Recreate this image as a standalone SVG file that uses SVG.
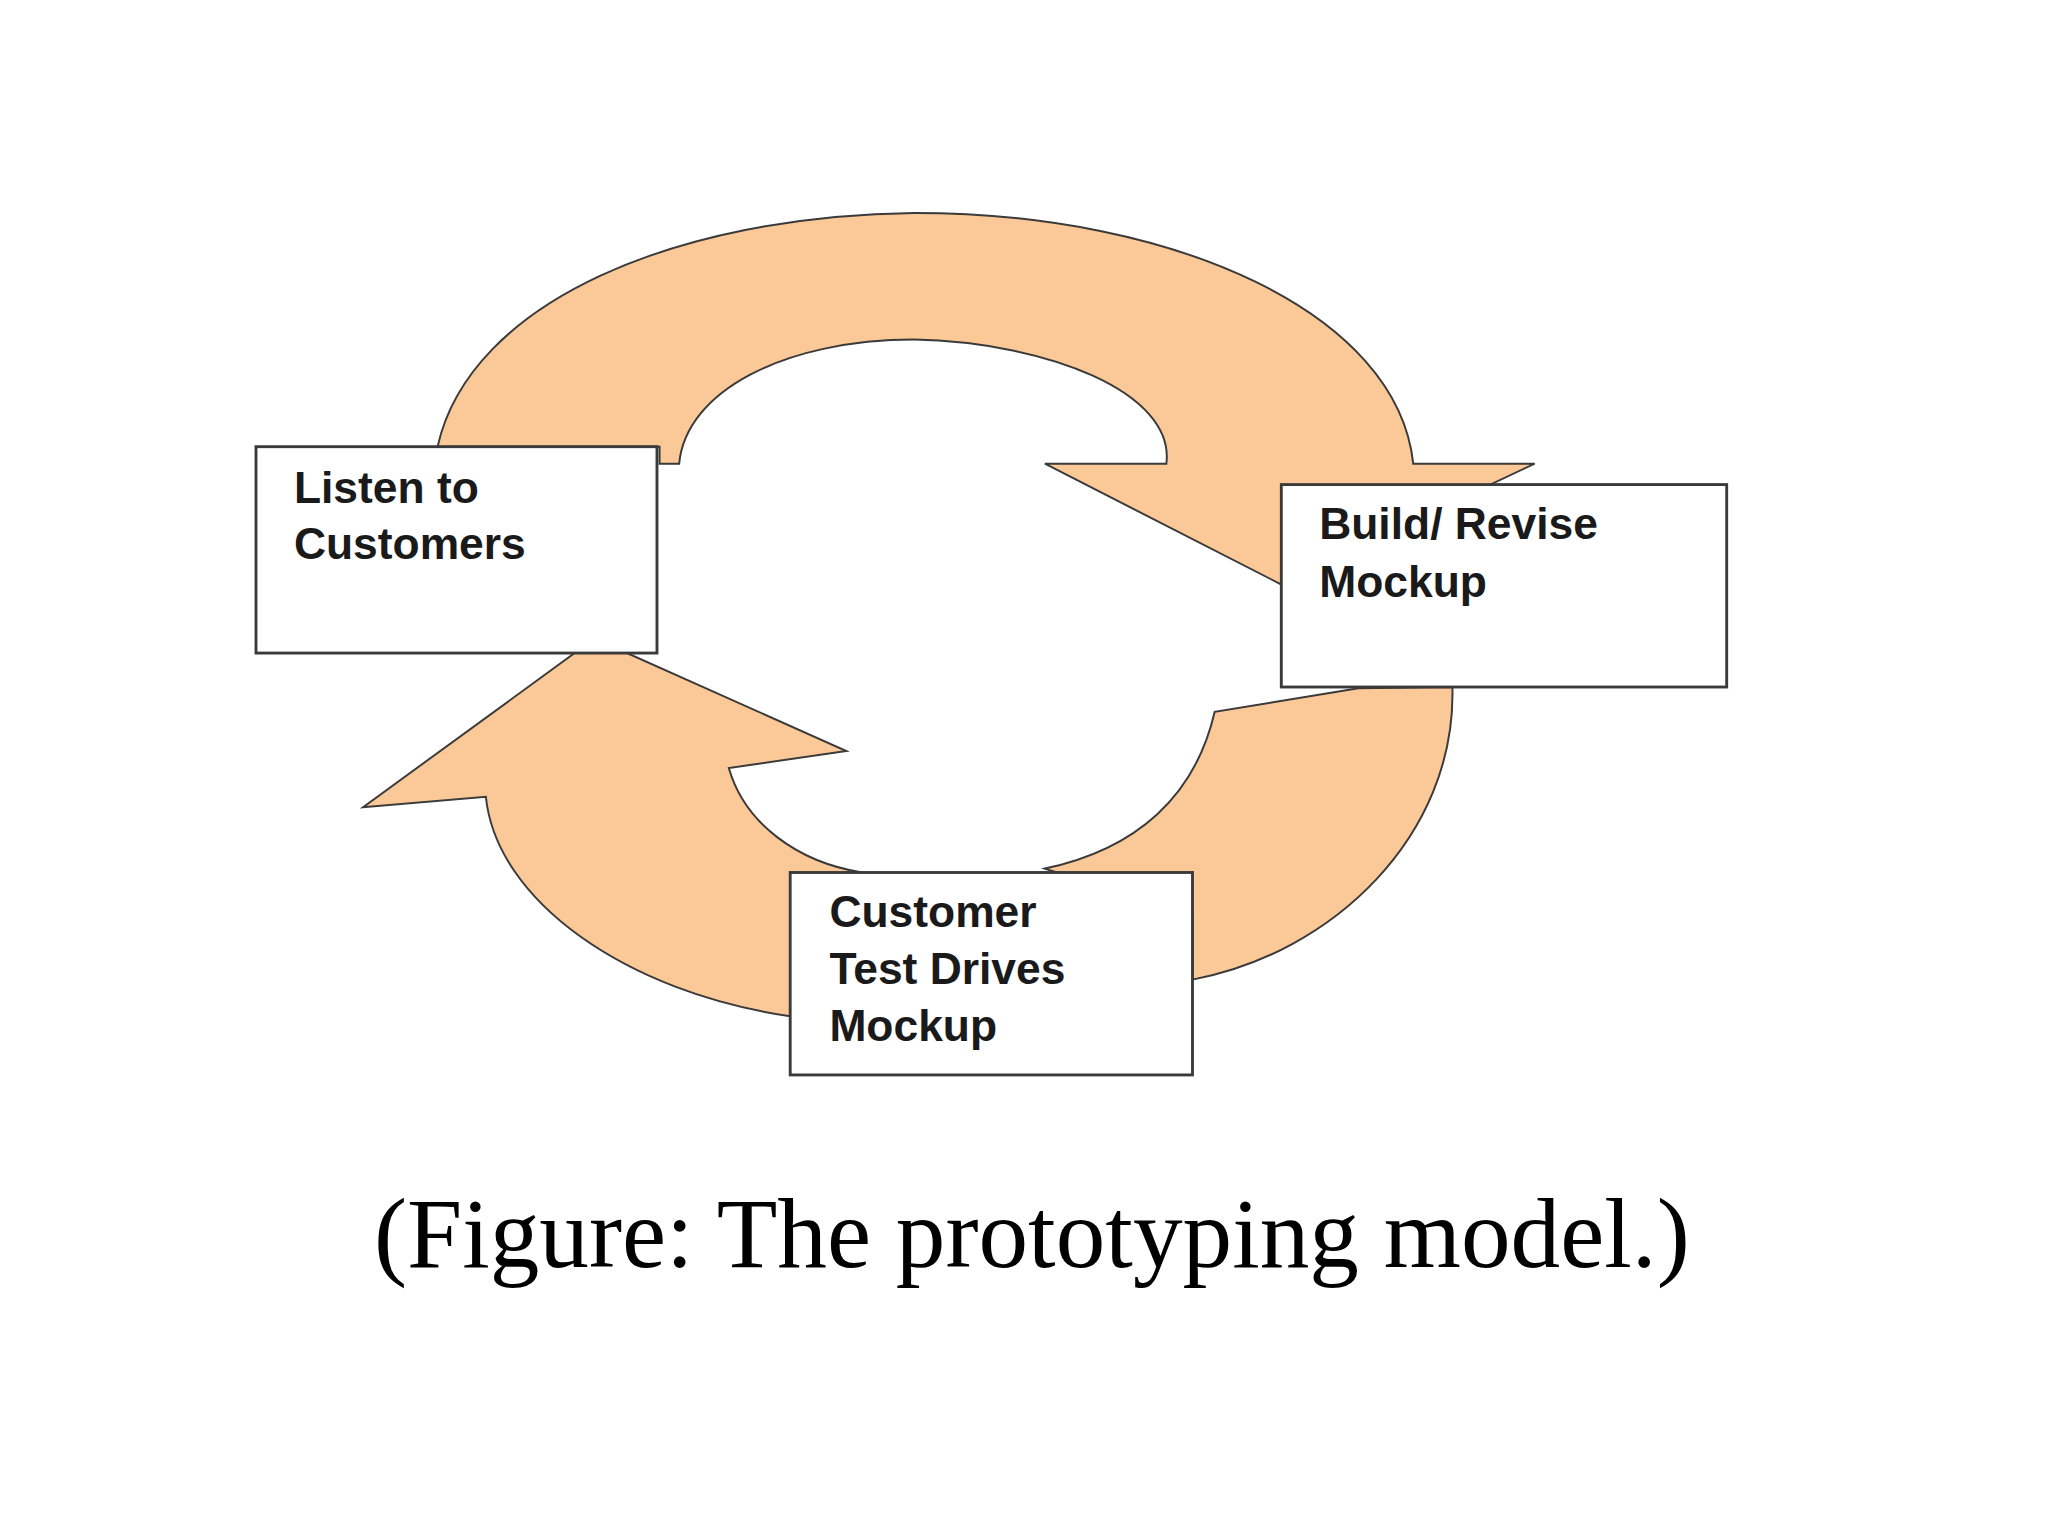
<svg xmlns="http://www.w3.org/2000/svg" width="2048" height="1536" viewBox="0 0 2048 1536">
<style>
.arrow{fill:#FAC997;stroke:#3a3a3a;stroke-width:1.5;stroke-linejoin:miter}
.box{fill:#fff;stroke:#3a3a3a;stroke-width:2.2}
.lbl{font-family:"Liberation Sans",Arial,sans-serif;font-weight:bold;font-size:34px;fill:#1a1a1a}
.cap{font-family:"Liberation Serif","Times New Roman",serif;font-size:76px;fill:#000}
</style>
<rect width="2048" height="1536" fill="#fff"/>
<g transform="scale(1.30612)">
<g id="connectors">
<path class="arrow" d="M335,342 C360,230 520,165 700,163 C900,163 1070,240 1082,355 L1175,355 L980,447 L800,355 L893,355 C900,300 800,262 700,260 C600,260 525,300 520,355 L505,355 L505,342 Z"/>
<path class="arrow" d="M1040,527 L1112,526 C1115,640 1020,730 913,750 L913,700 L800,665 C870,650 915,610 930,545 Z"/>
<path class="arrow" d="M605,778 C480,760 380,690 372,610 L278,618 L440,500 L480,500 L648,575 L558,588 C570,630 610,660 660,668 L660,720 L605,720 Z"/>
</g>
<g id="listen">
<rect class="box" x="196" y="342" width="307" height="158"/>
<text class="lbl" x="225" y="385">Listen to</text>
<text class="lbl" x="225" y="428">Customers</text>
</g>
<g id="build">
<rect class="box" x="981" y="371" width="341" height="155"/>
<text class="lbl" x="1010" y="413">Build/ Revise</text>
<text class="lbl" x="1010" y="457">Mockup</text>
</g>
<g id="test">
<rect class="box" x="605" y="668" width="308" height="155"/>
<text class="lbl" x="635" y="710">Customer</text>
<text class="lbl" x="635" y="753">Test Drives</text>
<text class="lbl" x="635" y="797">Mockup</text>
</g>
<text class="cap" x="790" y="970" text-anchor="middle">(Figure: The prototyping model.)</text>
</g>
</svg>
